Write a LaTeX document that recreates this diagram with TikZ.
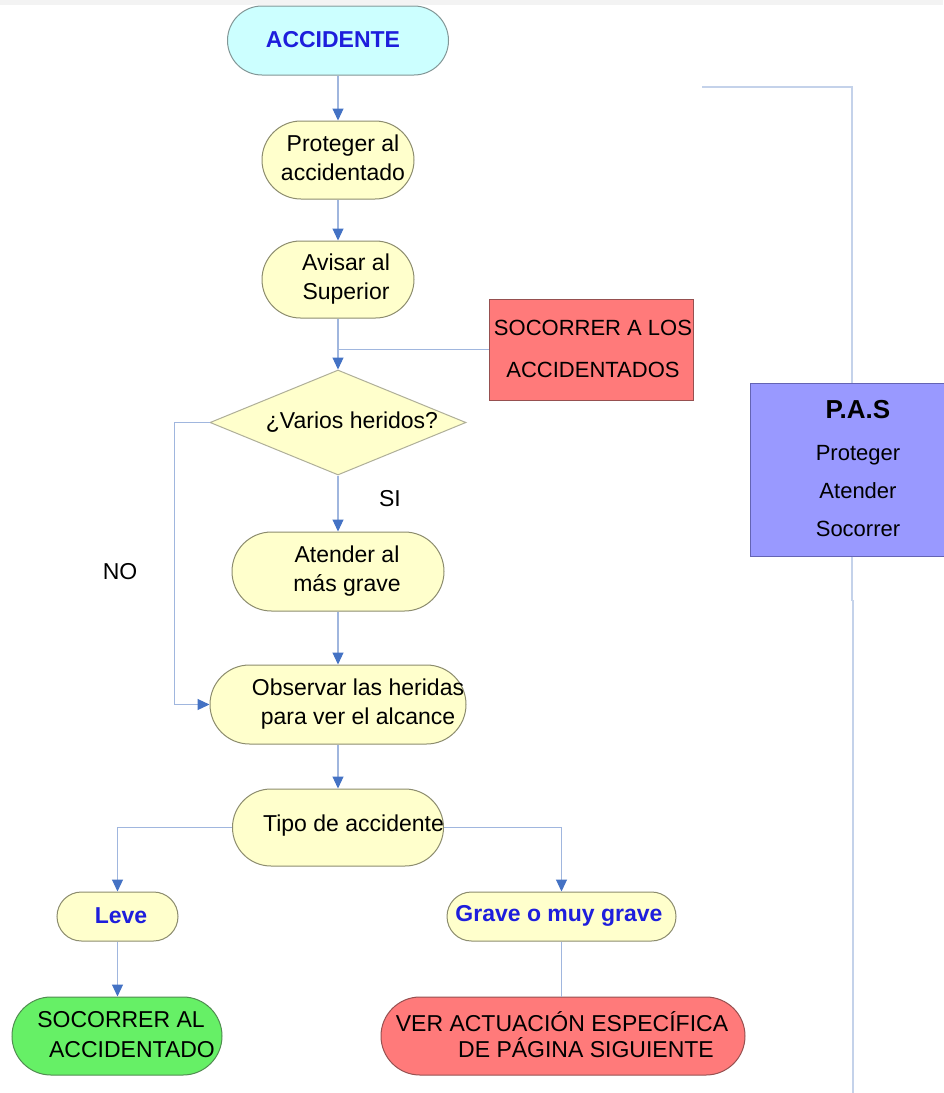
\documentclass[tikz,border=0pt]{standalone}
\usepackage{fontspec}
\setmainfont{Liberation Sans}
\usetikzlibrary{arrows.meta,shapes.geometric,calc}
\definecolor{lineblue}{RGB}{160,182,222}
\definecolor{lightline}{RGB}{196,210,234}
\definecolor{arrowblue}{RGB}{68,114,196}
\definecolor{pillyellow}{RGB}{255,255,204}
\definecolor{pillborder}{RGB}{140,140,110}
\definecolor{cyanfill}{RGB}{204,255,255}
\definecolor{cyanborder}{RGB}{130,150,150}
\definecolor{redfill}{RGB}{255,122,122}
\definecolor{redborder}{RGB}{150,80,80}
\definecolor{greenfill}{RGB}{102,240,102}
\definecolor{greenborder}{RGB}{80,140,80}
\definecolor{pasfill}{RGB}{153,153,255}
\definecolor{pasborder}{RGB}{100,100,180}
\definecolor{bluetext}{RGB}{30,30,220}
\definecolor{topband}{RGB}{243,243,243}
\tikzset{
  line/.style={draw=lineblue, line width=1.1pt},
  rline/.style={draw=lightline, line width=1.1pt},
  conn/.style={line, -{Triangle[width=11pt,length=12pt,color=arrowblue]}},
  shapebox/.style={line width=1pt, inner sep=0pt, minimum width=#1},
  pill/.style={shapebox=#1, rectangle, draw=pillborder, fill=pillyellow},
  txt/.style={align=center, inner sep=0pt, font=\fontsize{23}{29}\selectfont},
  btxt/.style={txt, font=\fontsize{23}{29}\selectfont\bfseries, text=bluetext},
}
\begin{document}
\begin{tikzpicture}[x=1pt,y=-1pt]
\path[use as bounding box, fill=white] (0,0) rectangle (943,1093);
\fill[topband] (0,0) rectangle (943,5);

% shapes
\node[pill=221pt, draw=cyanborder, fill=cyanfill, minimum height=69pt, rounded corners=34.5pt] (acc) at (338,40.5) {};
\node[pill=152pt, minimum height=78pt, rounded corners=39pt] (prot) at (338,160) {};
\node[pill=152pt, minimum height=77pt, rounded corners=38.5pt] (avis) at (338,279.5) {};
\node[shapebox=204pt, rectangle, draw=redborder, fill=redfill, minimum height=101pt] (soc) at (591,349.5) {};
\node[shapebox=256pt, diamond, draw=pillborder!70, fill=pillyellow, minimum height=105pt] (dia) at (338,422.5) {};
\node[pill=212pt, minimum height=79pt, rounded corners=39.5pt] (aten) at (338,571.5) {};
\node[pill=256pt, minimum height=79pt, rounded corners=39.5pt] (obs) at (338,704.5) {};
\node[pill=211pt, minimum height=77pt, rounded corners=38.5pt] (tipo) at (338,827.5) {};
\node[pill=121pt, minimum height=49pt, rounded corners=24.5pt] (leve) at (117.5,916.5) {};
\node[pill=229pt, minimum height=49pt, rounded corners=24.5pt] (grave) at (561.5,916.5) {};
\node[pill=210pt, draw=greenborder, fill=greenfill, minimum height=78pt, rounded corners=39pt] (socal) at (117,1036) {};
\node[pill=364pt, draw=redborder, fill=redfill, minimum height=78pt, rounded corners=39pt] (ver) at (563,1036) {};
\node[shapebox=216pt, rectangle, draw=pasborder, fill=pasfill, minimum height=173pt] (pas) at (858,469.5) {};

% texts
\node[btxt] (acct) at (333,40) {ACCIDENTE};
\node[txt] (prott) at (343,158) {Proteger al\\accidentado};
\node[txt] (avist) at (346,279) {Avisar al\\Superior};
\node[txt, font=\fontsize{22}{42}\selectfont] (soct) at (593,349) {SOCORRER A LOS\\ACCIDENTADOS};
\node[txt] (diat) at (352,422) {¿Varios heridos?};
\node[txt] (atent) at (347,571) {Atender al\\más grave};
\node[txt] (obst) at (358,704) {Observar las heridas\\para ver el alcance};
\node[txt] (tipot) at (353.5,826) {Tipo de accidente};
\node[btxt] (levet) at (121,916) {Leve};
\node[btxt] (gravet) at (559,916) {Grave o muy grave};
\node[txt, font=\fontsize{23}{30}\selectfont] (socalt) at (126.5,1035) {SOCORRER AL\hspace*{11pt}\\\hspace*{11pt}ACCIDENTADO};
\node[txt, font=\fontsize{23}{26}\selectfont] (vert) at (574,1035) {VER ACTUACIÓN ESPECÍFICA\hspace*{24pt}\\\hspace*{24pt}DE PÁGINA SIGUIENTE};
\node[txt, font=\fontsize{22}{38}\selectfont] (past) at (858,469) {{\fontsize{26}{30}\selectfont\bfseries P.A.S}\\[4pt]Proteger\\Atender\\Socorrer};
\node[txt] (no) at (120,572) {NO};
\node[txt] (si) at (390,499) {SI};

% connectors
\draw[conn] (acc.south) -- (prot.north);
\draw[conn] (prot.south) -- (avis.north);
\draw[conn] (avis.south) -- (dia.north);
\draw[line] (soc.west) -- (soc.west -| avis.south);
\draw[conn] (dia.west) -- ++(-35,0) |- (obs.west);
\draw[conn] (dia.south) -- (aten.north);
\draw[conn] (aten.south) -- (obs.north);
\draw[conn] (obs.south) -- (tipo.north);
\draw[conn] (tipo.west) -| (leve.north);
\draw[conn] (tipo.east) -| (grave.north);
\draw[conn] (leve.south) -- (leve.south |- socal.north);
\draw[line] (grave.south) -- (grave.south |- ver.north);

\coordinate (rstart) at (702,87);
\coordinate (rend) at (853,1093);
\draw[rline] (rstart) -| ([xshift=-6pt]pas.north);
\draw[rline] ([xshift=-6pt]pas.south) -- ++(0,44) -- ++(1,0) -- (rend);
\end{tikzpicture}
\end{document}
